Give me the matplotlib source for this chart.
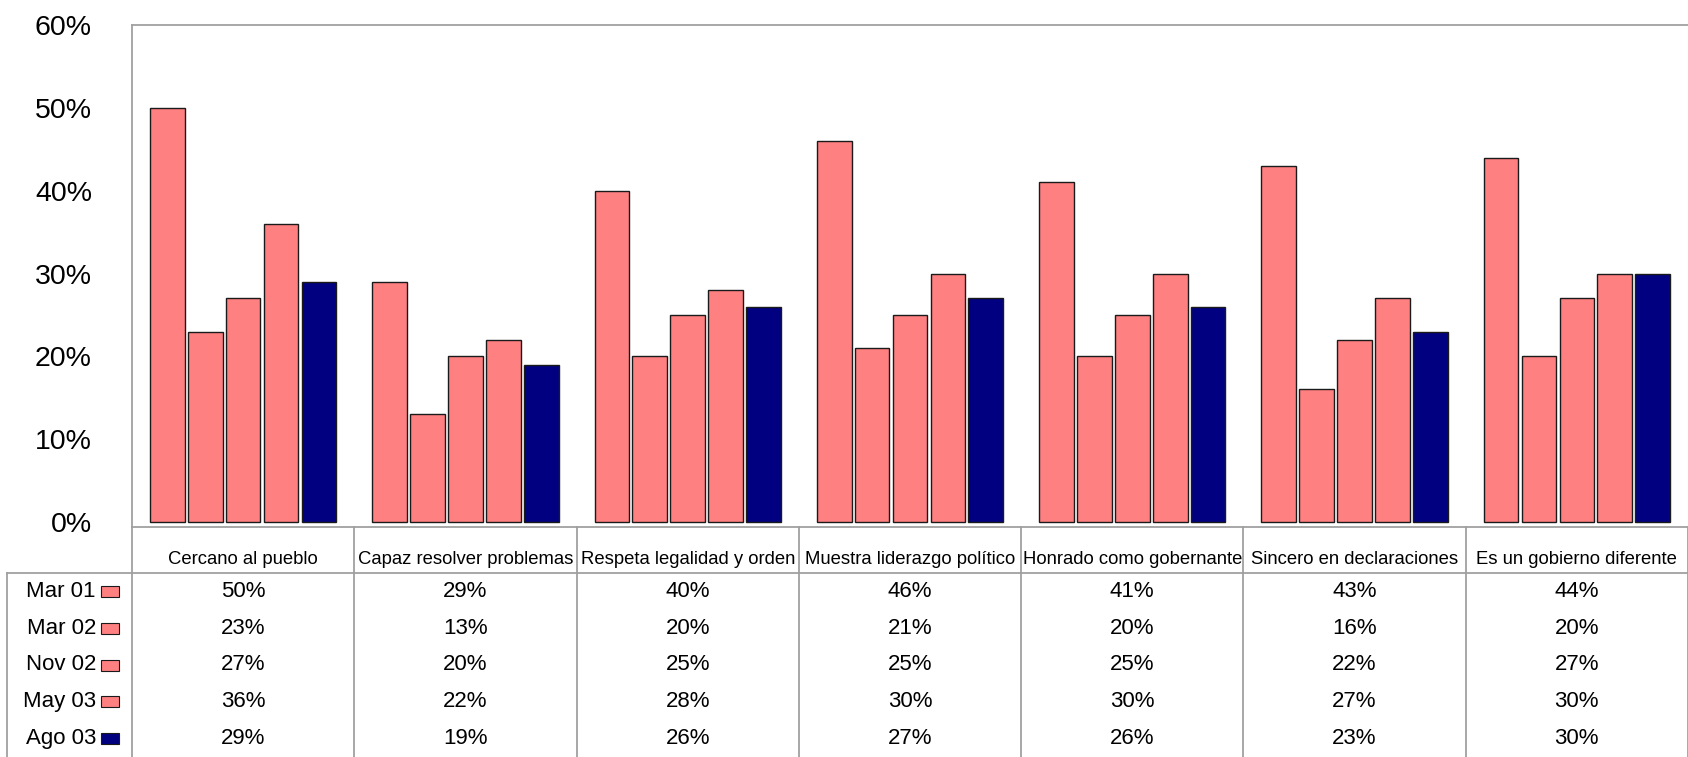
import matplotlib
matplotlib.use("Agg")
import matplotlib.pyplot as plt
from matplotlib.patches import Rectangle
from matplotlib.lines import Line2D
import matplotlib.transforms as mtransforms
import numpy as np

plt.rcParams['font.family'] = ['Liberation Sans', 'DejaVu Sans']

categories = ["Cercano al pueblo", "Capaz resolver problemas", "Respeta legalidad y orden",
              "Muestra liderazgo político", "Honrado como gobernante",
              "Sincero en declaraciones", "Es un gobierno diferente"]
series_names = ["Mar 01", "Mar 02", "Nov 02", "May 03", "Ago 03"]
mar01 = [50, 29, 40, 46, 41, 43, 44]
mar02 = [23, 13, 20, 21, 20, 16, 20]
nov02 = [27, 20, 25, 25, 25, 22, 27]
may03 = [36, 22, 28, 30, 30, 27, 30]
ago03 = [29, 19, 26, 27, 26, 23, 30]
series_values = [mar01, mar02, nov02, may03, ago03]
colors = ["#FF8080", "#FF8080", "#FF8080", "#FF8080", "#000080"]
yticks = [0, 10, 20, 30, 40, 50, 60]

W, H = 1688, 757
DPI = 100
fig = plt.figure(figsize=(W / DPI, H / DPI), dpi=DPI)

def fx(px):
    return px / W

def fy(py):
    return 1 - py / H

ax_left, ax_right, ax_top, ax_bottom = 132, 1688, 25, 527
ax = fig.add_axes([fx(ax_left), fy(ax_bottom), fx(ax_right - ax_left), fy(ax_top) - fy(ax_bottom)])

x = np.arange(len(categories))
pitch = 0.1705
bw = 0.156
for j, (vals, c) in enumerate(zip(series_values, colors)):
    ax.bar(x + (j - 2) * pitch, vals, width=bw, color=c, edgecolor="#1a1a1a",
           linewidth=1.0, zorder=3)

ax.set_xlim(-0.5, len(categories) - 0.5)
ax.set_ylim(-0.6, 60)
ax.set_yticks(yticks)
ax.set_yticklabels([f"{v}%" for v in yticks], fontsize=20.5)
ax.tick_params(axis='y', length=0, pad=28.8)
ax.set_xticks([])
gray = "#a0a0a0"
for s in ["left", "top", "bottom"]:
    ax.spines[s].set_color(gray)
    ax.spines[s].set_linewidth(1.3)
ax.spines["right"].set_visible(False)

# Data table
header_top, header_bottom, table_bottom = 527, 573, 757
row_h = (table_bottom - header_bottom) / len(series_names)
blend = mtransforms.blended_transform_factory(ax.transData, fig.transFigure)

for b in np.arange(len(categories) + 1) - 0.5:
    fig.add_artist(Line2D([b, b], [fy(header_top), fy(table_bottom)], transform=blend,
                          color=gray, lw=1.3, clip_on=False))
fig.add_artist(Line2D([fx(7), 1.0], [fy(header_bottom), fy(header_bottom)],
                      transform=fig.transFigure, color=gray, lw=1.3))
fig.add_artist(Line2D([fx(7), fx(7)], [fy(header_bottom), fy(table_bottom)],
                      transform=fig.transFigure, color=gray, lw=1.3))

for i, cat in enumerate(categories):
    fig.text(i, fy(560), cat, transform=blend, ha="center", va="center", fontsize=13.3)

for r, (name, vals, c) in enumerate(zip(series_names, series_values, colors)):
    yc = header_bottom + row_h * (r + 0.5)
    fig.text(fx(96), fy(yc), name, ha="right", va="center", fontsize=16)
    fig.add_artist(Rectangle((fx(101), fy(yc + 5.5)), fx(18), 11 / H,
                             transform=fig.transFigure, facecolor=c,
                             edgecolor="#1a1a1a", lw=0.8))
    for i, v in enumerate(vals):
        fig.text(i, fy(yc), f"{v}%", transform=blend, ha="center", va="center",
                 fontsize=16)

fig.savefig("out.png", dpi=DPI)
